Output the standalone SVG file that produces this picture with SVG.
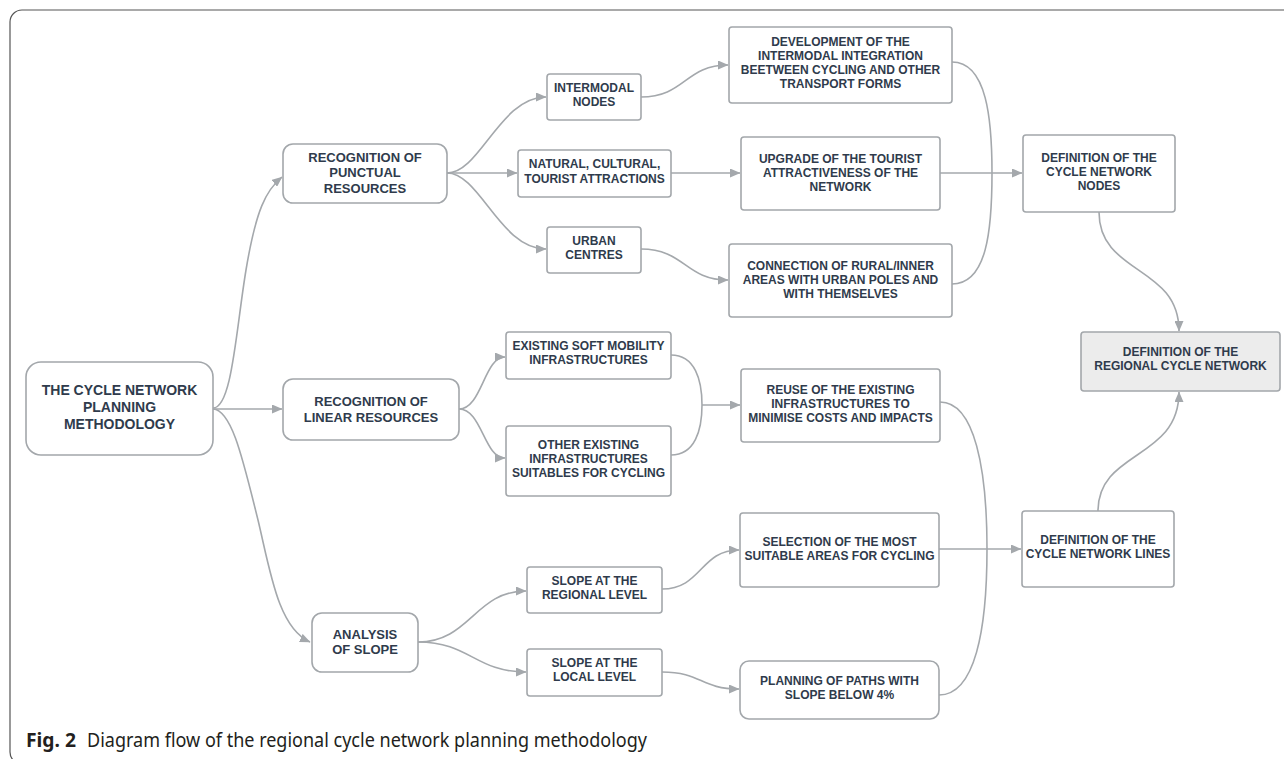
<svg xmlns="http://www.w3.org/2000/svg" width="1284" height="759" viewBox="0 0 1284 759">
<defs>
<marker id="ah" markerWidth="11" markerHeight="9" refX="10" refY="4.5" orient="auto" markerUnits="userSpaceOnUse">
<path d="M0,0 L10.5,4.5 L0,9 Z" fill="#a4a8ac"/>
</marker>
<style>
.box{fill:#ffffff;stroke:#a3a7ab;stroke-width:1.6}
.grey{fill:#ececec}
.t{font-family:"Liberation Sans",Arial,sans-serif;font-weight:bold;fill:#2f3b4c;text-anchor:middle;font-size:12px}
.t13{font-size:13px}
.t14{font-size:14px}
.c{fill:none;stroke:#a4a8ac;stroke-width:1.6}
.a{marker-end:url(#ah)}
.cap{font-family:"Noto Sans","Open Sans",sans-serif;font-size:19px;fill:#231f20}
</style>
</defs>
<rect width="1284" height="759" fill="#ffffff"/>
<rect x="10" y="10" width="1300" height="754" rx="12" fill="none" stroke="#555555" stroke-width="1.2"/>

<g id="connectors">
<path class="c a" d="M213,408 C232,408 236,330 246,270 S266,190 282,177"/>
<path class="c a" d="M213,409 H282"/>
<path class="c a" d="M213,409 C232,410 243,460 258,520 C270,570 278,628 310,642"/>
<path class="c a" d="M447,173 C480,173 500,97 546,97"/>
<path class="c a" d="M447,173 H517"/>
<path class="c a" d="M447,173 C480,173 500,249 546,249"/>
<path class="c a" d="M641,97 C685,97 685,65 728,65"/>
<path class="c a" d="M671,173 H740"/>
<path class="c a" d="M641,249 C685,249 685,280 728,280"/>
<path class="c" d="M952,62 C987,62 992,120 992,173 C992,230 987,284 952,284"/>
<path class="c a" d="M940,173 H1022"/>
<path class="c a" d="M459,409 C482,409 484,357 505,357"/>
<path class="c a" d="M459,409 C482,409 484,458 505,458"/>
<path class="c" d="M671,355 C695,355 702,380 702,405 C702,430 695,455 671,455"/>
<path class="c a" d="M702,405 H740"/>
<path class="c a" d="M418,642 C470,642 475,591 526,591"/>
<path class="c a" d="M418,642 C470,642 475,672 526,672"/>
<path class="c a" d="M662,589 C702,589 700,550 739,550"/>
<path class="c a" d="M662,672 C702,672 700,689 739,689"/>
<path class="c" d="M940,402 C975,402 987,470 987,549 C987,630 975,695 939,695"/>
<path class="c a" d="M939,549 H1021"/>
<path class="c a" d="M1099,212 C1099,275 1179,265 1179,331"/>
<path class="c a" d="M1098,511 C1098,450 1179,460 1179,392"/>
</g>

<g id="n-main">
<rect class="box" x="26" y="362" width="187" height="93" rx="15"/>
<text class="t t14" x="119.5" y="395">THE CYCLE NETWORK</text>
<text class="t t14" x="119.5" y="412">PLANNING</text>
<text class="t t14" x="119.5" y="429">METHODOLOGY</text>
</g>
<g id="n-punctual">
<rect class="box" x="283" y="144" width="164" height="59" rx="10"/>
<text class="t t13" x="365" y="161.5">RECOGNITION OF</text>
<text class="t t13" x="365" y="177">PUNCTUAL</text>
<text class="t t13" x="365" y="192.5">RESOURCES</text>
</g>
<g id="n-linear">
<rect class="box" x="283" y="379" width="176" height="61" rx="10"/>
<text class="t t13" x="371" y="405.5">RECOGNITION OF</text>
<text class="t t13" x="371" y="421.5">LINEAR RESOURCES</text>
</g>
<g id="n-analysis">
<rect class="box" x="312" y="613" width="106" height="59" rx="10"/>
<text class="t t13" x="365" y="638.5">ANALYSIS</text>
<text class="t t13" x="365" y="654">OF SLOPE</text>
</g>
<g id="n-intermodal">
<rect class="box" x="547" y="74" width="94" height="46" rx="3"/>
<text class="t" x="594" y="92.3">INTERMODAL</text>
<text class="t" x="594" y="106.3">NODES</text>
</g>
<g id="n-natural">
<rect class="box" x="518" y="150" width="153" height="47" rx="3"/>
<text class="t" x="594.5" y="168.3">NATURAL, CULTURAL,</text>
<text class="t" x="594.5" y="183.3">TOURIST ATTRACTIONS</text>
</g>
<g id="n-urban">
<rect class="box" x="547" y="227" width="94" height="46" rx="3"/>
<text class="t" x="594" y="245.3">URBAN</text>
<text class="t" x="594" y="259.3">CENTRES</text>
</g>
<g id="n-development">
<rect class="box" x="729" y="27" width="223" height="76" rx="3"/>
<text class="t" x="840.5" y="46.3">DEVELOPMENT OF THE</text>
<text class="t" x="840.5" y="60.3">INTERMODAL INTEGRATION</text>
<text class="t" x="840.5" y="74.3">BEETWEEN CYCLING AND OTHER</text>
<text class="t" x="840.5" y="88.3">TRANSPORT FORMS</text>
</g>
<g id="n-upgrade">
<rect class="box" x="741" y="137" width="199" height="73" rx="3"/>
<text class="t" x="840.5" y="162.6">UPGRADE OF THE TOURIST</text>
<text class="t" x="840.5" y="177">ATTRACTIVENESS OF THE</text>
<text class="t" x="840.5" y="191.3">NETWORK</text>
</g>
<g id="n-connection">
<rect class="box" x="729" y="244" width="223" height="73" rx="3"/>
<text class="t" x="840.5" y="270.3">CONNECTION OF RURAL/INNER</text>
<text class="t" x="840.5" y="284.3">AREAS WITH URBAN POLES AND</text>
<text class="t" x="840.5" y="298.3">WITH THEMSELVES</text>
</g>
<g id="n-existing">
<rect class="box" x="506" y="332" width="165" height="47" rx="3"/>
<text class="t" x="588.5" y="350.3">EXISTING SOFT MOBILITY</text>
<text class="t" x="588.5" y="364.3">INFRASTRUCTURES</text>
</g>
<g id="n-other">
<rect class="box" x="506" y="426" width="165" height="70" rx="3"/>
<text class="t" x="588.5" y="449.3">OTHER EXISTING</text>
<text class="t" x="588.5" y="463.3">INFRASTRUCTURES</text>
<text class="t" x="588.5" y="477.3">SUITABLES FOR CYCLING</text>
</g>
<g id="n-reuse">
<rect class="box" x="741" y="369" width="199" height="73" rx="3"/>
<text class="t" x="840.5" y="394.3">REUSE OF THE EXISTING</text>
<text class="t" x="840.5" y="408.3">INFRASTRUCTURES TO</text>
<text class="t" x="840.5" y="422.3">MINIMISE COSTS AND IMPACTS</text>
</g>
<g id="n-slope-regional">
<rect class="box" x="527" y="567" width="135" height="46" rx="3"/>
<text class="t" x="594.5" y="585.3">SLOPE AT THE</text>
<text class="t" x="594.5" y="599.3">REGIONAL LEVEL</text>
</g>
<g id="n-slope-local">
<rect class="box" x="527" y="649" width="135" height="47" rx="3"/>
<text class="t" x="594.5" y="667.3">SLOPE AT THE</text>
<text class="t" x="594.5" y="681.3">LOCAL LEVEL</text>
</g>
<g id="n-selection">
<rect class="box" x="740" y="513" width="199" height="74" rx="3"/>
<text class="t" x="839.5" y="546.3">SELECTION OF THE MOST</text>
<text class="t" x="839.5" y="560.3">SUITABLE AREAS FOR CYCLING</text>
</g>
<g id="n-planning">
<rect class="box" x="740" y="661" width="199" height="58" rx="9"/>
<text class="t" x="839.5" y="685.3">PLANNING OF PATHS WITH</text>
<text class="t" x="839.5" y="699.3">SLOPE BELOW 4%</text>
</g>
<g id="n-nodes">
<rect class="box" x="1023" y="135" width="152" height="77" rx="3"/>
<text class="t" x="1099" y="162.3">DEFINITION OF THE</text>
<text class="t" x="1099" y="176.3">CYCLE NETWORK</text>
<text class="t" x="1099" y="190.3">NODES</text>
</g>
<g id="n-lines">
<rect class="box" x="1022" y="511" width="152" height="76" rx="3"/>
<text class="t" x="1098" y="544.3">DEFINITION OF THE</text>
<text class="t" x="1098" y="558.3">CYCLE NETWORK LINES</text>
</g>
<g id="n-regional">
<rect class="box grey" x="1081" y="332" width="199" height="59" rx="3"/>
<text class="t" x="1180.5" y="356.3">DEFINITION OF THE</text>
<text class="t" x="1180.5" y="370.3">REGIONAL CYCLE NETWORK</text>
</g>

<text class="cap" x="26" y="747" font-weight="bold" textLength="50" lengthAdjust="spacingAndGlyphs">Fig. 2</text>
<text class="cap" x="87" y="747" textLength="560" lengthAdjust="spacingAndGlyphs">Diagram flow of the regional cycle network planning methodology</text>
</svg>
